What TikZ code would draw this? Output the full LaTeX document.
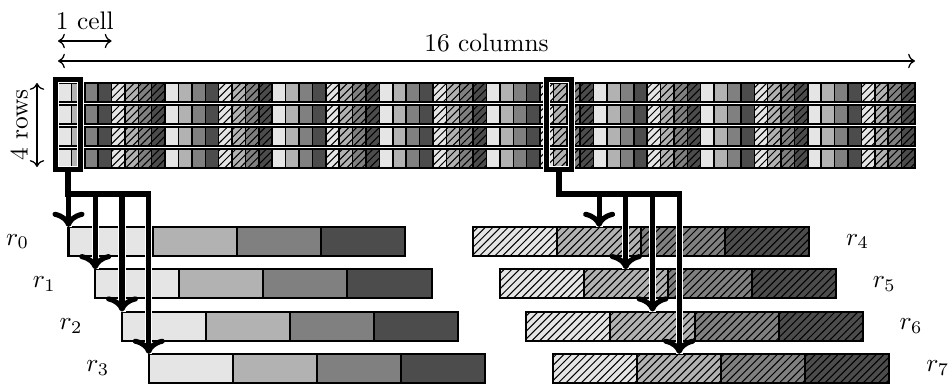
\documentclass[tikz,border=0pt]{standalone}
\usetikzlibrary{positioning,patterns,arrows.meta}
\colorlet{tone1}{black!10}
\colorlet{tone2}{black!30}
\colorlet{tone3}{black!50}
\colorlet{tone4}{black!70}
\begin{document}
\begin{tikzpicture}[x=0.3937pt, y=-0.3937pt,
    cellbox/.style={draw, line width=0.6pt},
    hatch/.style={preaction={fill=#1}, pattern=north east lines},
    seg/.style={draw, line width=0.8pt, minimum width=33.1pt, minimum height=11.4pt, inner sep=0pt, outer sep=0pt},
    selbox/.style={draw, line width=2pt, minimum width=9.8pt, minimum height=35.4pt, inner sep=0pt,
        preaction={draw=white, line width=2.8pt}},
    halo/.style={white, line width=2.8pt},
    route/.style={line width=2pt, -To},
    dim/.style={<->, line width=0.5pt}]
	\useasboundingbox (0,0) rectangle (948,385);
	
	% the 16 x 4 grid, plain and hatched cells
	\foreach \c in {0,2,...,14}
		\foreach \b in {1,...,4}
			\foreach \r in {0,...,3}
				\draw[cellbox, fill=tone\b] ({58+53.56*\c+13.39*(\b-1)}, {83+22*\r}) rectangle ++(13.39,19);
	\foreach \c in {1,3,...,15}
		\foreach \b in {1,...,4}
			\foreach \r in {0,...,3}
				\draw[cellbox, hatch=tone\b] ({58+53.56*\c+13.39*(\b-1)}, {83+22*\r}) rectangle ++(13.39,19);
	
	\coordinate (gridNW) at (58,83);
	\coordinate (gridNE) at (915,83);
	\coordinate (gridSW) at (58,167);
	\coordinate (cellE) at (111.6,83);
	
	\draw[dim] (gridNW |- 0,41) -- (cellE |- 0,41) node[midway, above=1pt] (cellLbl) {1 cell};
	\draw[dim] (gridNW |- 0,61) -- (gridNE |- 0,61) node[midway, above] (colLbl) {16 columns};
	\draw[dim] (gridNW -| 37,0) -- (gridSW -| 37,0) node[midway, rotate=90, anchor=south] (rowLbl) {4 rows};
	
	% registers
	\foreach \k in {0,...,3} {
		\node[seg, fill=tone1, anchor=north west] (bar\k-1) at ({68.5+26.75*\k}, {227+42.3*\k}) {};
		\foreach \s [count=\p] in {2,3,4}
			\node[seg, fill=tone\s, right=0pt of bar\k-\p] (bar\k-\s) {};
		\node[left=12pt of bar\k-1] (lbl\k) {$r_\k$};
	}
	\foreach \k [count=\j from 0] in {4,...,7} {
		\node[seg, hatch=tone1, anchor=north west] (bar\k-1) at ({473+26.7*\j}, {227+42.3*\j}) {};
		\foreach \s [count=\p] in {2,3,4}
			\node[seg, hatch=tone\s, right=0pt of bar\k-\p] (bar\k-\s) {};
		\node[right=11pt of bar\k-4] (lbl\k) {$r_\k$};
	}
	
	\node[selbox] (selA) at (68,124.5) {};
	\node[selbox] (selB) at (559,124.5) {};
	\coordinate (hubA) at (selA.south |- 0,194);
	\coordinate (hubB) at (selB.south |- 0,194);
	
	\foreach \pen in {halo,route} {
		\foreach \k in {0,...,3}
			\draw[\pen] (selA.south) -- (hubA) -| (bar\k-1.north west);
		\foreach \k in {4,...,7}
			\draw[\pen] (selB.south) -- (hubB) -| (bar\k-2.north);
	}
\end{tikzpicture}
\end{document}
